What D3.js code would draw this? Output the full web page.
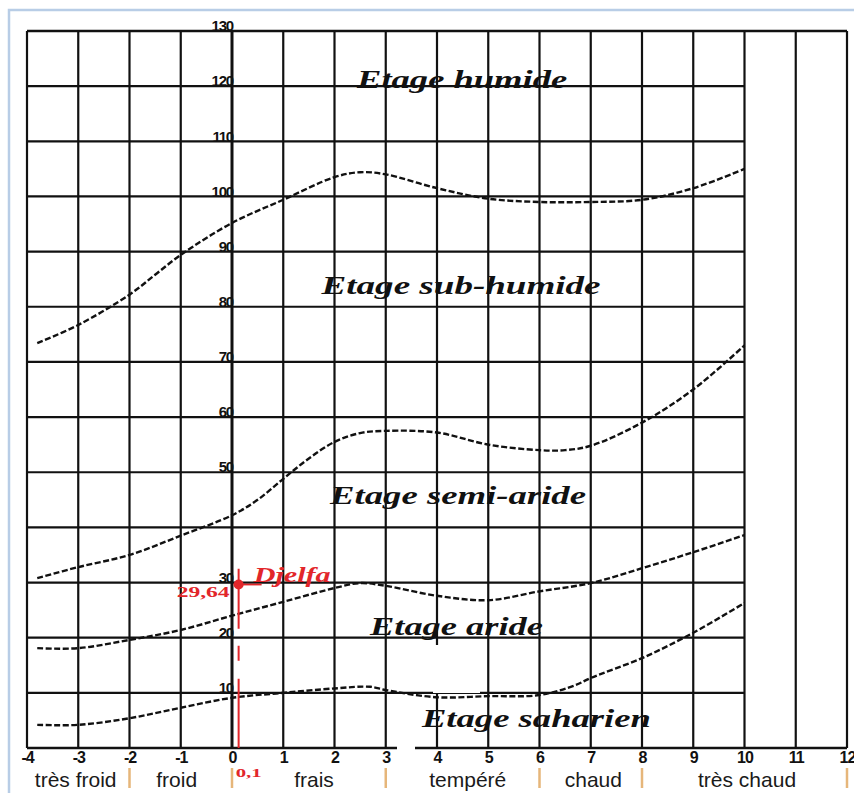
<!DOCTYPE html>
<html><head><meta charset="utf-8">
<script src="https://cdn.jsdelivr.net/npm/d3@7"></script>
<style>
html,body{margin:0;padding:0;background:#fff;}
svg{display:block;}
</style></head>
<body>
<svg id="c" width="854" height="793"></svg>
<script>
// ---------- data ----------
const xTicks = [-4,-3,-2,-1,0,1,2,3,4,5,6,7,8,9,10,11,12];
const xTickLabels = ["-4","-3","-2","-1","0","1","2","3","4","5","6","7","8","9","10","11","12"];
const yGridValues = [10,20,30,40,50,60,70,80,90,100,110,120];
const yTickValues = [130,120,110,100,90,80,70,60,50,30,20,10];
const yTickLabels = ["130","120","110","100","90","80","70","60","50","30","20","10"];

// Boundary curves (x = m, y = Q2)
const humideX = [-3.8,-3,-2,-1.5,-1,0,1,2,2.5,3,4,5,6,7,8,9,10];
const humideY = [73.4,76.7,82.2,85.8,89.4,95.2,99.4,103.5,104.4,104,101.5,99.6,99,99,99.4,101.5,105];
const subHumideX = [-3.8,-3,-2,-1,0,0.5,1,1.5,2,2.5,3,4,5,6,6.5,7,8,9,10];
const subHumideY = [30.8,32.8,35,38.5,42.2,45,48.8,52.5,55.5,57.1,57.5,57.2,55,54,54,54.8,59,65,73];
const semiAridX = [-3.8,-3,-2,-1,0,1,2,2.5,3,4,5,6,7,8,9,10];
const semiAridY = [18.1,18.1,19.6,21.4,24,26.5,29,29.9,29.4,27.6,26.8,28.4,29.9,32.6,35.5,38.6];
const aridX = [-3.8,-3,-2,-1,0,1,2,2.7,3,4,5,6,6.7,7,8,9,10];
const aridY = [4.2,4.2,5.4,7.3,9.1,10,10.8,11.1,10.5,9.2,9.4,9.6,11.4,12.7,16.3,20.9,26.3];

const zoneNames = ["Etage humide","Etage sub-humide","Etage semi-aride","Etage aride","Etage saharien"];
const zoneX = [4.49, 4.47, 4.41, 4.38, 5.94];   // centre (m)
const zoneQ = [119.6, 82.3, 44.2, 20.5, 3.8];   // baseline (Q2)
const zoneW = [210, 279, 256, 173, 229];        // text widths

const thermalNames = ["très froid","froid","frais","tempéré","chaud","très chaud"];
const thermalCentres = [-3.05,-1.08,1.6,4.6,7.05,10.05];
const thermalBounds = [-2,0,3,6,8,12];

const stationName = "Djelfa";
const stationM = 0.1;
const stationQ2 = 29.64;
const stationQLabel = "29,64";
const stationMLabel = "0,1";

// ---------- scales ----------
const svg = d3.select("#c");
const x = d3.scaleLinear().domain([-4,12]).range([27,847]);
const y = d3.scaleLinear().domain([0,130]).range([748,31]);

// frame
svg.append("rect").attr("x",0).attr("y",0).attr("width",854).attr("height",793).attr("fill","#fff");
svg.append("path").attr("d",`M9,793 V10 H854`).attr("fill","none").attr("stroke","#b8cde6").attr("stroke-width",2.5);

const ink = "#111";
const g = svg.append("g");

// vertical grid
g.selectAll("line.v").data(xTicks).join("line")
  .attr("x1",d=>x(d)).attr("x2",d=>x(d)).attr("y1",y(130)).attr("y2",y(0))
  .attr("stroke",ink).attr("stroke-width",d=>d===0?3:2.2);
// horizontal grid (to m = 10)
g.selectAll("line.h").data(yGridValues).join("line")
  .attr("x1",x(-4)).attr("x2",x(10)).attr("y1",d=>y(d)).attr("y2",d=>y(d))
  .attr("stroke",ink).attr("stroke-width",2.2);
// top and bottom full-width lines
g.selectAll("line.b").data([0,130]).join("line")
  .attr("x1",x(-4)).attr("x2",x(12)).attr("y1",d=>y(d)).attr("y2",d=>y(d))
  .attr("stroke",ink).attr("stroke-width",2.6);

// scan artefacts: small white gaps
const gaps = [[397,740,18,14],[666,364,13,8],[433,645,47,48]];
svg.selectAll("rect.gap").data(gaps).join("rect")
  .attr("x",d=>d[0]).attr("y",d=>d[1]).attr("width",d=>d[2]).attr("height",d=>d[3]).attr("fill","#fff");

// curves
const line = d3.line().x(d=>x(d[0])).y(d=>y(d[1])).curve(d3.curveCatmullRom.alpha(0.5));
const curves = [[humideX,humideY],[subHumideX,subHumideY],[semiAridX,semiAridY],[aridX,aridY]];
svg.selectAll("path.curve").data(curves).join("path")
  .attr("d",c=>line(c[0].map((v,i)=>[v,c[1][i]])))
  .attr("fill","none").attr("stroke",ink).attr("stroke-width",2.4)
  .attr("stroke-dasharray","6,2.5");

// axes labels (ticks)
const tickFont = "'Liberation Sans',Arial,sans-serif";
const xAxis = d3.axisBottom(x).tickValues(xTicks).tickSize(0).tickPadding(4)
  .tickFormat((d,i)=>xTickLabels[i]);
const gx = svg.append("g").attr("transform",`translate(0,${y(0)})`).call(xAxis);
gx.select(".domain").remove();
gx.attr("font-size",null).attr("font-family",null);
gx.selectAll("text").style("font-family",tickFont)
  .style("font-weight","bold").style("font-size","16px").style("letter-spacing","-1px").attr("fill",ink);

const yAxis = d3.axisLeft(y).tickValues(yTickValues).tickSize(0).tickPadding(0)
  .tickFormat((d,i)=>yTickLabels[i]);
const gy = svg.append("g").attr("transform",`translate(${x(0)+1},0)`).call(yAxis);
gy.select(".domain").remove();
gy.attr("font-size",null).attr("font-family",null);
gy.selectAll("text").attr("dy","-0.02em").style("font-family",tickFont)
  .style("font-weight","bold").style("font-size","15px").style("letter-spacing","-1.2px").attr("fill",ink);

// zone names
svg.selectAll("text.zone").data(zoneNames).join("text")
  .attr("x",(d,i)=>x(zoneX[i])).attr("y",(d,i)=>y(zoneQ[i]))
  .attr("text-anchor","middle")
  .attr("textLength",(d,i)=>zoneW[i]).attr("lengthAdjust","spacingAndGlyphs")
  .attr("font-family","'Liberation Serif','Times New Roman',serif")
  .attr("font-style","italic").attr("font-weight","bold").attr("font-size",25)
  .attr("fill",ink).text(d=>d);

// thermal classes
svg.selectAll("text.th").data(thermalNames).join("text")
  .attr("x",(d,i)=>x(thermalCentres[i])).attr("y",787)
  .attr("text-anchor","middle")
  .attr("font-family","'Liberation Sans',Arial,sans-serif").attr("font-size",21)
  .attr("fill","#1a1a1a").text(d=>d);
svg.selectAll("line.sep").data(thermalBounds).join("line")
  .attr("x1",d=>x(d)).attr("x2",d=>x(d)).attr("y1",768).attr("y2",788)
  .attr("stroke","#e6b67a").attr("stroke-width",2.5);

// Djelfa station
const red = "#e2262a";
const sx = x(stationM)+1.5, sy = y(stationQ2);
svg.append("line").attr("x1",sx).attr("x2",sx).attr("y1",y(32.5)).attr("y2",y(0))
  .attr("stroke",red).attr("stroke-width",2).attr("stroke-dasharray","60,17,15,18,120");
svg.append("line").attr("x1",sx-5).attr("x2",sx+23).attr("y1",sy).attr("y2",sy)
  .attr("stroke",red).attr("stroke-width",1.8);
svg.append("circle").attr("cx",sx).attr("cy",sy).attr("r",5).attr("fill",red);
svg.append("text").attr("x",sx+15).attr("y",582).attr("textLength",77).attr("lengthAdjust","spacingAndGlyphs")
  .attr("font-family","'Liberation Serif','Times New Roman',serif").attr("font-style","italic")
  .attr("font-weight","bold").attr("font-size",21).attr("fill",red).text(stationName);
svg.append("text").attr("x",sx-9).attr("y",sy+12).attr("text-anchor","end")
  .attr("textLength",53).attr("lengthAdjust","spacingAndGlyphs")
  .attr("font-family","'Liberation Serif','Times New Roman',serif")
  .attr("font-weight","bold").attr("font-size",15).attr("fill",red).text(stationQLabel);
svg.append("text").attr("x",sx-3).attr("y",777)
  .attr("textLength",26).attr("lengthAdjust","spacingAndGlyphs")
  .attr("font-family","'Liberation Serif','Times New Roman',serif")
  .attr("font-weight","bold").attr("font-size",13).attr("fill",red).text(stationMLabel);
</script>
</body></html>
